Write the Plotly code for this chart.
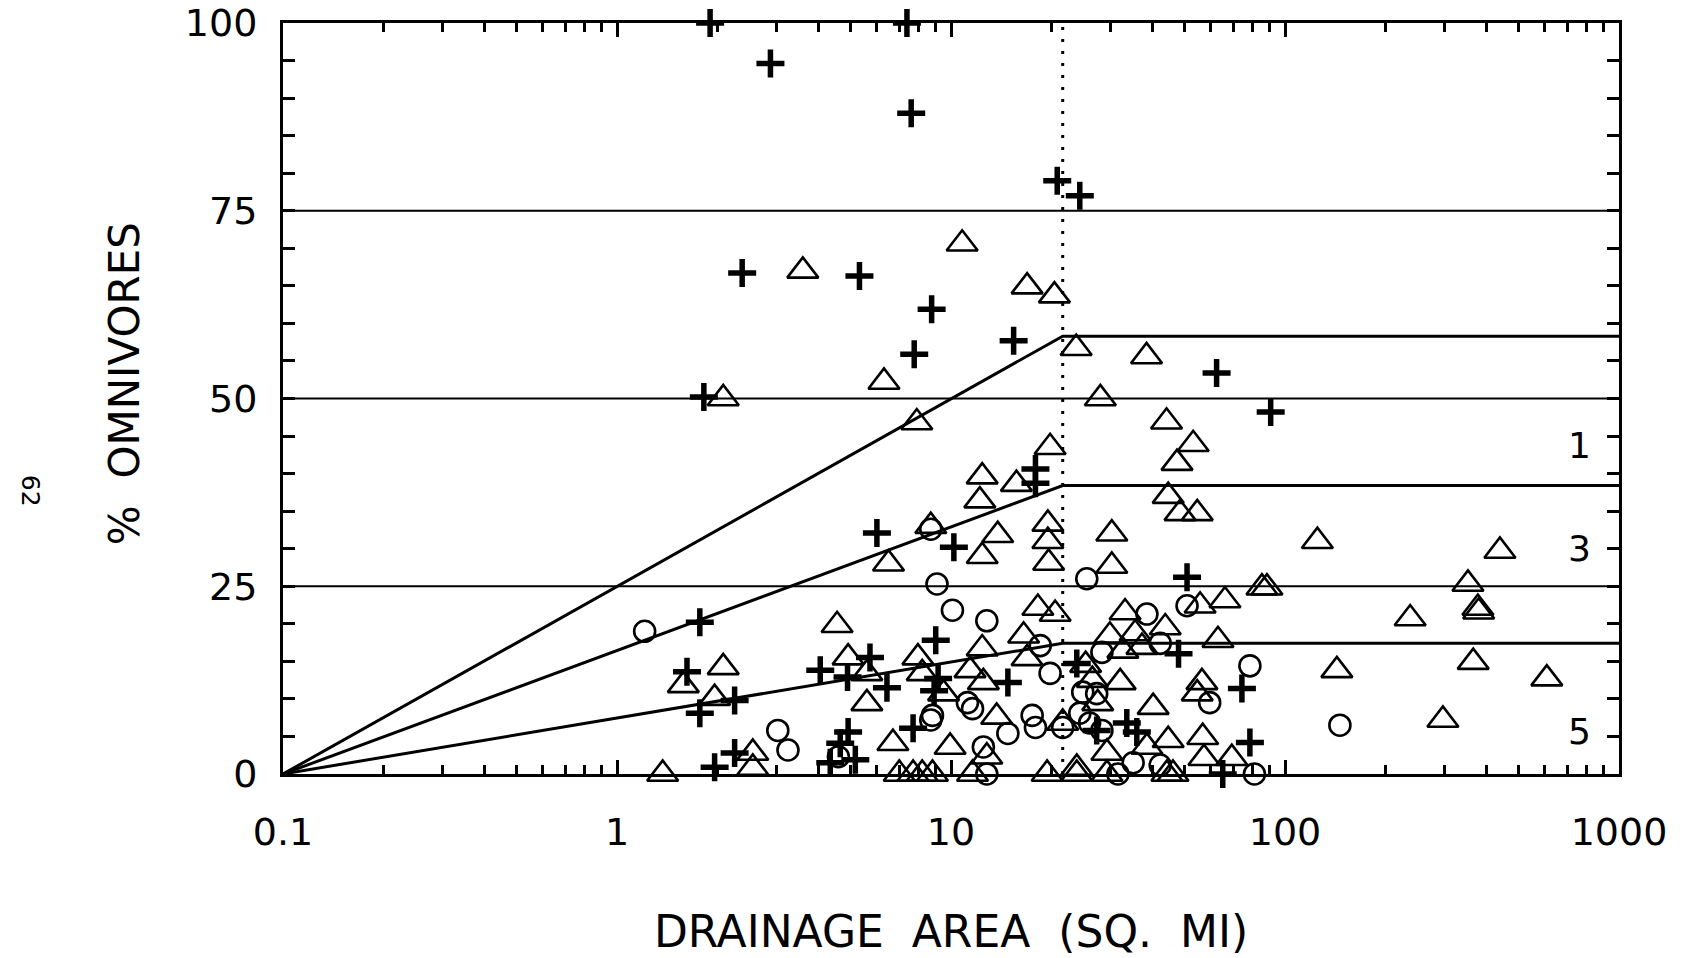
import numpy as np
import plotly.graph_objects as go

# ---- data ----
cross_x = [1.90, 7.38, 2.88, 7.6, 20.8, 24.3, 2.37, 5.32, 8.75, 7.76, 15.4, 1.82, 62.4, 90.6,
           17.9, 17.9, 6.0, 10.2, 1.77, 50.9, 1.62, 2.25, 1.77, 2.25, 1.96, 4.06, 4.9, 5.72,
           6.43, 9.0, 4.92, 4.66, 5.17, 4.35, 7.7, 9.15, 8.9, 14.8, 23.8, 33.6, 36.0, 27.3,
           48.0, 74.3, 78.5, 65.1]
cross_y = [100, 100, 94.6, 88, 79, 77, 66.7, 66.3, 61.9, 55.9, 57.7, 50.2, 53.4, 48.2,
           40.6, 38.7, 32.1, 30.2, 20.2, 26.2, 13.6, 9.8, 8.1, 2.8, 0.9, 13.8, 12.9, 15.5,
           11.5, 17.8, 5.6, 4.1, 1.9, 1.5, 6.1, 12.7, 11.1, 12.2, 14.7, 6.8, 5.6, 5.8,
           16.0, 11.4, 4.2, 0]

tri_x = [10.8, 3.6, 16.9, 20.4, 23.7, 38.5, 6.3, 2.08, 28.0, 7.9, 44.2, 53.1, 19.8, 47.5,
         12.4, 15.7, 44.7, 48.5, 54.6, 12.2, 13.8, 19.5, 19.5, 19.6, 30.3, 12.4, 125, 440,
         6.5, 30.3, 8.7, 85.3, 88.3, 353, 378, 380, 237, 143, 366, 608, 297,
         4.56, 1.58, 2.08, 1.96, 2.55, 2.55, 1.37, 4.92, 5.6, 5.6, 7.96, 8.2, 6.7, 7.0, 7.7,
         8.2, 8.8, 18.2, 20.5, 33.2, 43.8, 35.6, 29.9, 37.3, 32.7, 63, 12.4, 16.5, 16.9, 25.3,
         32.1, 26.5, 27.5, 11.4, 12.5, 9.5, 56.4, 54.6, 40.3, 13.7, 21.6, 44.7, 38.6, 56.7,
         9.94, 12.8, 29.3, 57.2, 69.3, 23.8, 11.6, 19.4, 23.8, 29.3, 44.3, 46.2, 55.7, 66.1]
tri_y = [70.6, 67, 64.9, 63.7, 56.7, 55.6, 52.2, 50, 50, 46.8, 46.9, 43.9, 43.5, 41.4,
         39.6, 38.6, 37.0, 34.7, 34.7, 36.4, 31.8, 33.3, 31.0, 28.1, 32.0, 29.0, 31, 29.7,
         28.0, 27.7, 33.0, 24.8, 24.8, 25.3, 22.1, 21.6, 20.7, 13.8, 14.9, 12.7, 7.2,
         19.8, 11.8, 14.2, 10.1, 2.8, 0.8, 0, 15.5, 13.4, 9.4, 15.5, 13.4, 4.1, 0, 0,
         0, 0, 22.1, 21.3, 21.5, 19.5, 18.7, 18.4, 16.9, 16.4, 17.8, 16.7, 18.4, 15.4, 14.5,
         12.2, 12.5, 9.4, 13.8, 12.2, 10.7, 12.2, 10.7, 8.9, 7.6, 6.8, 4.5, 3.6, 4.9,
         3.6, 2.3, 2.8, 2.1, 2.1, 0.8, 0, 0, 0, 0, 0, 0, 22.4, 23.1]

circ_x = [1.21, 9.08, 25.5, 3.03, 3.25, 4.6, 8.8, 8.7, 50.9, 10.1, 12.8, 38.6, 42.3, 28.3,
          78.5, 18.5, 19.8, 24.8, 27.3, 11.2, 11.6, 8.7, 59.5, 24.3, 17.5, 17.9, 14.8, 21.6,
          26.0, 28.3, 12.5, 35.1, 42.3, 12.8, 31.6, 81, 146]
circ_y = [19.0, 25.3, 26.0, 5.8, 3.2, 2.3, 7.8, 32.6, 22.4, 21.8, 20.4, 21.3, 17.4, 16.2,
          14.4, 17.1, 13.4, 10.9, 10.7, 9.5, 8.7, 7.2, 9.5, 8.1, 7.8, 6.2, 5.4, 6.2,
          6.8, 5.8, 3.6, 1.5, 1.2, 0, 0, 0, 6.5]

class_levels = [25, 50, 75]
break_x = 21.6
line_tops = [58.3, 38.4, 17.4]
score_labels = ['1', '3', '5']
score_y = [43.7, 30.0, 5.7]
score_x = 760
x_ticks = [0.1, 1, 10, 100, 1000]
x_ticktext = ['0.1', '1', '10', '100', '1000']
y_ticks = [0, 25, 50, 75, 100]

FONT = 'DejaVu Sans'
ink = 'black'

fig = go.Figure()

for lvl in class_levels:
    fig.add_trace(go.Scatter(x=[0.1, 1000], y=[lvl, lvl], mode='lines',
                             line=dict(color=ink, width=2.2), hoverinfo='skip'))
for top in line_tops:
    fig.add_trace(go.Scatter(x=[0.1, break_x, 1000], y=[0, top, top], mode='lines',
                             line=dict(color=ink, width=3), hoverinfo='skip'))
fig.add_trace(go.Scatter(x=[break_x, break_x], y=[0, 100], mode='lines',
                         line=dict(color=ink, width=3, dash='3px,9px'), hoverinfo='skip'))

fig.add_trace(go.Scatter(x=circ_x, y=circ_y, mode='markers', cliponaxis=False,
                         marker=dict(symbol='circle-open', size=21, color=ink,
                                     line=dict(width=2.6, color=ink))))
fig.add_trace(go.Scatter(x=tri_x, y=tri_y, mode='markers', cliponaxis=False,
                         marker=dict(symbol='triangle-up-open', size=27, color=ink,
                                     line=dict(width=2.6, color=ink))))
fig.add_trace(go.Scatter(x=cross_x, y=cross_y, mode='markers', cliponaxis=False,
                         marker=dict(symbol='cross-thin-open', size=20, color=ink,
                                     line=dict(width=5.5, color=ink))))

for txt, yy in zip(score_labels, score_y):
    fig.add_annotation(x=np.log10(score_x), y=yy, xref='x', yref='y', text=txt,
                       showarrow=False, font=dict(family=FONT, size=36, color=ink))

# page number printed sideways in the margin
fig.add_annotation(x=0, y=0.377, xref='paper', yref='paper', xshift=-253, xanchor='center',
                   text='62', textangle=90, showarrow=False,
                   font=dict(family=FONT, size=25, color=ink))

# y axis title as an annotation so it can sit slightly above centre like the scan
fig.add_annotation(x=0, y=0.519, xref='paper', yref='paper', xshift=-159, xanchor='center',
                   text='%  OMNIVORES', textangle=-90, showarrow=False,
                   font=dict(family=FONT, size=42, color=ink))

# the page body adds an 8px offset, so margins are trimmed on the left/top
fig.update_layout(
    width=1687, height=958,
    margin=dict(l=275, r=76, t=15, b=192),
    plot_bgcolor='white', paper_bgcolor='white',
    showlegend=False,
    font=dict(family=FONT, size=38, color=ink),
)
fig.update_xaxes(
    type='log', range=[-1, 3], automargin=False,
    tickvals=x_ticks, ticktext=x_ticktext, ticklabeloverflow='allow',
    ticks='inside', ticklen=14, tickwidth=2.5, tickcolor=ink,
    minor=dict(ticks='inside', ticklen=9, tickwidth=2.5, tickcolor=ink, dtick='D1', showgrid=False),
    showline=True, linewidth=3, linecolor=ink, mirror='ticks',
    showgrid=False, zeroline=False, ticklabelstandoff=22,
    title=dict(text='DRAINAGE  AREA  (SQ.  MI)', standoff=64,
               font=dict(family=FONT, size=44)),
)
fig.update_yaxes(
    range=[0, 100.001], tickvals=y_ticks, ticklabeloverflow='allow', automargin=False,
    ticks='inside', ticklen=12, tickwidth=2.5, tickcolor=ink,
    minor=dict(ticks='inside', ticklen=12, tickwidth=2.5, tickcolor=ink, dtick=5, showgrid=False),
    showline=True, linewidth=3, linecolor=ink, mirror='ticks',
    showgrid=False, zeroline=False, ticklabelstandoff=15,
)

fig.write_html('out.html')
